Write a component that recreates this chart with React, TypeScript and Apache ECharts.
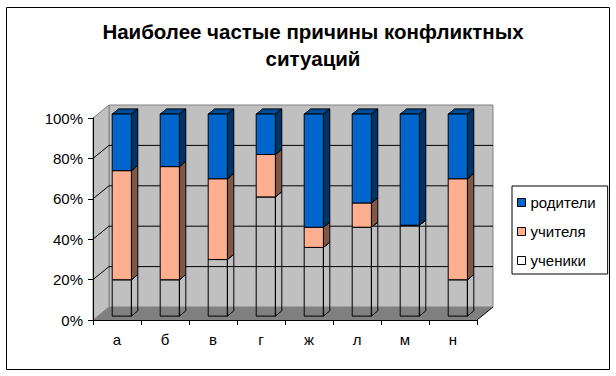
import React, { useEffect, useRef } from "react";
import * as echarts from "echarts";

const categories = ["а", "б", "в", "г", "ж", "л", "м", "н"];
const ucheniki = [18, 18, 28, 59, 34, 44, 45, 18];
const uchitelya = [54, 56, 40, 21, 10, 12, 0, 50];
const roditeli = [28, 26, 32, 20, 56, 44, 55, 32];
const yTicks = [0, 20, 40, 60, 80, 100];

const FONT = "'Liberation Sans', Arial, sans-serif";
const DX = 16;
const DY = -13;

function wallRender(params: any, api: any) {
  const cs = params.coordSys;
  const x0 = cs.x, x1 = cs.x + cs.width;
  const yt = cs.y, yb = cs.y + cs.height;
  const children: any[] = [];
  children.push({
    type: "rect",
    shape: { x: x0 + DX, y: yt + DY, width: x1 - x0, height: yb - yt },
    style: { fill: "#c0c0c0", stroke: "#808080", lineWidth: 1 },
  });
  children.push({
    type: "polygon",
    shape: { points: [[x0, yt], [x0 + DX, yt + DY], [x0 + DX, yb + DY], [x0, yb]] },
    style: { fill: "#c0c0c0", stroke: "#808080", lineWidth: 1 },
  });
  yTicks.forEach((t) => {
    if (t === 0 || t === 100) return;
    const y = api.coord([0, t])[1];
    children.push({
      type: "line",
      shape: { x1: x0 + DX, y1: y + DY, x2: x1 + DX, y2: y + DY },
      style: { stroke: "#000", lineWidth: 1 },
    });
    children.push({
      type: "line",
      shape: { x1: x0, y1: y, x2: x0 + DX, y2: y + DY },
      style: { stroke: "#000", lineWidth: 1 },
    });
  });
  children.push({
    type: "polygon",
    shape: { points: [[x0, yb], [x1, yb], [x1 + DX, yb + DY], [x0 + DX, yb + DY]] },
    style: { fill: "#808080", stroke: "none" },
  });
  children.push({
    type: "line",
    shape: { x1: x1, y1: yb, x2: x1 + DX, y2: yb + DY },
    style: { stroke: "#000", lineWidth: 1 },
  });
  return { type: "group", children };
}

function makeBarRender(front: string, side: string, top: string) {
  return (params: any, api: any) => {
    const idx = api.value(0);
    const base = api.value(1);
    const v = api.value(2);
    const pB = api.coord([idx, base]);
    const pT = api.coord([idx, base + v]);
    const bw = api.size([1, 0])[0];
    const w = bw * 0.4;
    const f0 = 0.3, f1 = 0.7;
    const x0 = pB[0] - w / 2 + f0 * DX;
    const x1 = x0 + w;
    const yb = pB[1] + f0 * DY;
    const yt = pT[1] + f0 * DY;
    const ddx = (f1 - f0) * DX;
    const ddy = (f1 - f0) * DY;
    const st = { stroke: "#000", lineWidth: 1, lineJoin: "miter" };
    return {
      type: "group",
      children: [
        {
          type: "polygon",
          shape: { points: [[x1, yb], [x1, yt], [x1 + ddx, yt + ddy], [x1 + ddx, yb + ddy]] },
          style: { ...st, fill: side },
        },
        {
          type: "polygon",
          shape: { points: [[x0, yt], [x1, yt], [x1 + ddx, yt + ddy], [x0 + ddx, yt + ddy]] },
          style: { ...st, fill: top },
        },
        {
          type: "rect",
          shape: { x: x0, y: yt, width: w, height: yb - yt },
          style: { ...st, fill: front },
        },
      ],
    };
  };
}

export default function App() {
  const ref = useRef<HTMLDivElement>(null);
  useEffect(() => {
    if (!ref.current) return;
    const chart = echarts.init(ref.current, undefined, { renderer: "svg" });
    const base1 = ucheniki;
    const base2 = ucheniki.map((u, i) => u + uchitelya[i]);
    const option: any = {
      animation: false,
      backgroundColor: "#fff",
      title: {
        text: "Наиболее частые причины конфликтных\nситуаций",
        left: 308,
        textAlign: "center",
        top: 13,
        textStyle: {
          fontFamily: FONT,
          fontSize: 20.5,
          fontWeight: "bold",
          color: "#000",
          lineHeight: 27,
        },
      },
      legend: {
        orient: "vertical",
        left: 512,
        top: 186,
        padding: [9, 12, 6, 5],
        itemGap: 14,
        itemWidth: 8,
        itemHeight: 8,
        borderColor: "#000",
        borderWidth: 1,
        backgroundColor: "#fff",
        textStyle: { fontFamily: FONT, fontSize: 15, color: "#000", lineHeight: 14 },
        data: [
          { name: "родители", icon: "rect", itemStyle: { color: "#0066cc", borderColor: "#000", borderWidth: 1 } },
          { name: "учителя", icon: "rect", itemStyle: { color: "#ffaf8f", borderColor: "#000", borderWidth: 1 } },
          { name: "ученики", icon: "rect", itemStyle: { color: "#ffffff", borderColor: "#000", borderWidth: 1 } },
        ],
      },
      grid: { left: 93, top: 118, width: 384, height: 202, containLabel: false },
      xAxis: {
        type: "category",
        data: categories,
        boundaryGap: true,
        z: 10,
        axisLine: { show: true, lineStyle: { color: "#000", width: 1 } },
        axisTick: { show: true, length: 5, lineStyle: { color: "#000" } },
        axisLabel: { fontFamily: FONT, fontSize: 15, color: "#000", margin: 12 },
        splitLine: { show: false },
      },
      yAxis: {
        type: "value",
        min: 0,
        max: 100,
        interval: 20,
        z: 10,
        axisLine: { show: true, lineStyle: { color: "#000", width: 1 } },
        axisTick: { show: true, length: 5, lineStyle: { color: "#000" } },
        axisLabel: { fontFamily: FONT, fontSize: 15, color: "#000", margin: 10, formatter: "{value}%" },
        splitLine: { show: false },
      },
      graphic: [
        {
          type: "rect",
          shape: { x: 6.5, y: 7.5, width: 603, height: 362 },
          style: { fill: "none", stroke: "#000", lineWidth: 1 },
          z: 100,
        },
      ],
      series: [
        {
          type: "custom",
          name: "wall",
          z: 1,
          renderItem: wallRender,
          data: [[0, 0]],
          silent: true,
        },
        {
          type: "custom",
          name: "ученики",
          z: 2,
          itemStyle: { color: "#ffffff" },
          renderItem: makeBarRender("none", "none", "none"),
          data: categories.map((_, i) => [i, 0, ucheniki[i]]),
        },
        {
          type: "custom",
          name: "учителя",
          z: 3,
          itemStyle: { color: "#ffaf8f" },
          renderItem: makeBarRender("#ffaf8f", "#7f5748", "#cc8c72"),
          data: categories.map((_, i) => [i, base1[i], uchitelya[i]]),
        },
        {
          type: "custom",
          name: "родители",
          z: 4,
          itemStyle: { color: "#0066cc" },
          renderItem: makeBarRender("#0066cc", "#003366", "#004c99"),
          data: categories.map((_, i) => [i, base2[i], roditeli[i]]),
        },
      ],
    };
    chart.setOption(option);
    return () => chart.dispose();
  }, []);
  return (
    <div
      ref={ref}
      style={{ position: "fixed", left: 0, top: 0, width: 616, height: 376 }}
    />
  );
}
